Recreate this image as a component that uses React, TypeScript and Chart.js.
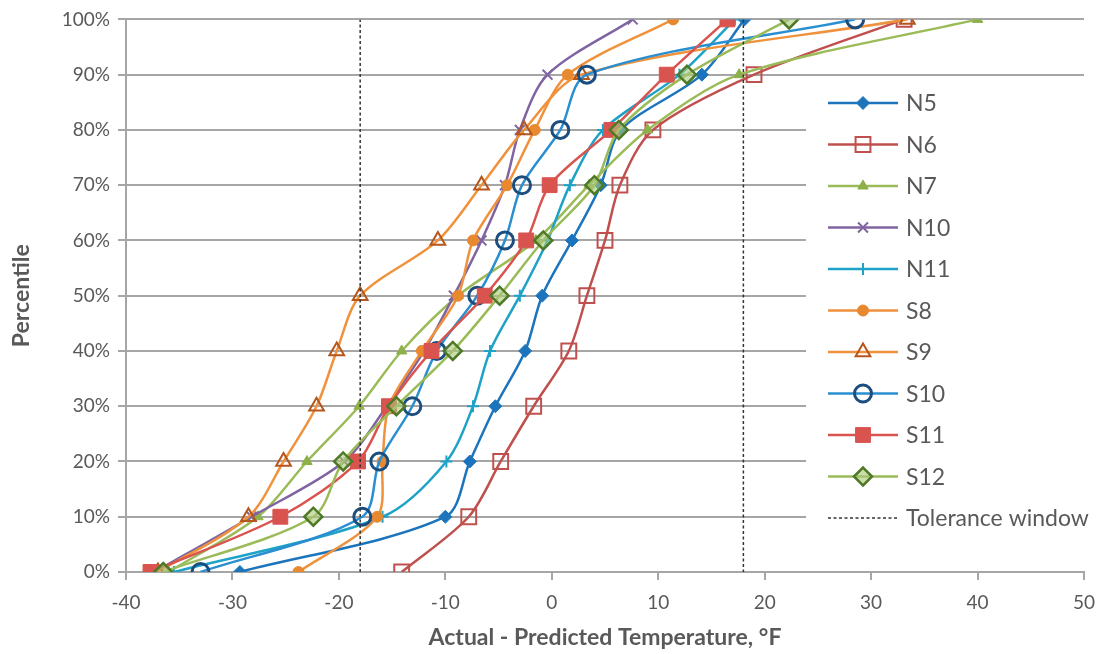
import React, { useEffect, useRef } from 'react';
import { Chart, registerables } from 'chart.js';
import { drawPoint } from 'chart.js/helpers';

Chart.register(...registerables);

const percentiles = [0, 10, 20, 30, 40, 50, 60, 70, 80, 90, 100];

const N5 = [-29.3, -10.0, -7.7, -5.3, -2.5, -0.9, 1.9, 4.6, 6.5, 14.1, 18.1];
const N6 = [-14.1, -7.8, -4.8, -1.7, 1.6, 3.3, 5.0, 6.4, 9.5, 19.0, 33.1];
const N7 = [-36.0, -27.6, -23.0, -18.1, -14.1, -8.8, -1.5, 3.5, 9.0, 17.6, 40.0];
const N10 = [-37.3, -28.2, -19.5, -15.5, -12.0, -9.2, -6.6, -4.4, -3.0, -0.4, 7.6];
const N11 = [-35.5, -15.9, -9.9, -7.4, -5.8, -3.0, -0.4, 1.7, 4.8, 12.0, 17.2];
const S8 = [-23.8, -16.4, -15.9, -15.3, -12.2, -8.8, -7.4, -4.2, -1.6, 1.5, 11.4];
const S9 = [-37.0, -28.5, -25.2, -22.1, -20.2, -18.0, -10.7, -6.6, -2.6, 2.8, 33.4];
const S10 = [-33.0, -17.8, -16.2, -13.1, -10.8, -7.0, -4.4, -2.8, 0.8, 3.3, 28.5];
const S11 = [-37.7, -25.5, -18.2, -15.3, -11.3, -6.3, -2.4, -0.2, 5.6, 10.8, 16.5];
const S12 = [-36.5, -22.4, -19.6, -14.6, -9.3, -4.9, -0.8, 4.0, 6.3, 12.7, 22.3];

const toleranceX = [-18, 18];
const toleranceLabel = 'Tolerance window';

const xTitle = 'Actual - Predicted Temperature, °F';
const yTitle = 'Percentile';

const FONT = 'Lato, "Open Sans", sans-serif';
const TEXT = '#595959';
const GRID = '#A6A6A6';

type Def = {
  label: string;
  values: number[];
  line: string;
  style: any;
  radius: number;
  border: string;
  fill: string;
  bw: number;
};

const defs: Def[] = [
  { label: 'N5', values: N5, line: '#1C75BC', style: 'rectRot', radius: 6.5, border: '#1C75BC', fill: '#1C75BC', bw: 1 },
  { label: 'N6', values: N6, line: '#C0504D', style: 'rect', radius: 10.5, border: '#C0504D', fill: 'rgba(255,255,255,0)', bw: 2 },
  { label: 'N7', values: N7, line: '#9BBB59', style: 'triangle', radius: 6, border: '#8EB04A', fill: '#8EB04A', bw: 1 },
  { label: 'N10', values: N10, line: '#8064A2', style: 'crossRot', radius: 7, border: '#8064A2', fill: '#8064A2', bw: 2 },
  { label: 'N11', values: N11, line: '#1FA2C8', style: 'cross', radius: 6, border: '#1FA2C8', fill: '#1FA2C8', bw: 2 },
  { label: 'S8', values: S8, line: '#F0913C', style: 'circle', radius: 5.5, border: '#E8892F', fill: '#E8892F', bw: 1 },
  { label: 'S9', values: S9, line: '#F0913C', style: 'triangle', radius: 8.5, border: '#B5561C', fill: 'rgba(255,255,255,0)', bw: 2 },
  { label: 'S10', values: S10, line: '#2A8FD0', style: 'circle', radius: 8.5, border: '#1B4E7E', fill: 'rgba(255,255,255,0)', bw: 3 },
  { label: 'S11', values: S11, line: '#D9534F', style: 'rect', radius: 10.5, border: '#D9534F', fill: '#D9534F', bw: 1 },
  { label: 'S12', values: S12, line: '#9BBB59', style: 'rectRot', radius: 9, border: '#4E7A27', fill: 'rgba(170,200,120,0.6)', bw: 2.5 },
];

const legendPlugin = {
  id: 'customLegend',
  beforeDatasetsDraw(chart: any) {
    const ctx = chart.ctx as CanvasRenderingContext2D;
    ctx.save();
    ctx.fillStyle = '#ffffff';
    ctx.fillRect(806, 82, 300, 460);
    const y0 = 103;
    const step = 41.5;
    ctx.font = `23px ${FONT}`;
    ctx.textBaseline = 'middle';
    ctx.textAlign = 'left';
    defs.forEach((d, i) => {
      const y = y0 + i * step;
      ctx.strokeStyle = d.line;
      ctx.lineWidth = 2.5;
      ctx.setLineDash([]);
      ctx.beginPath();
      ctx.moveTo(828, y);
      ctx.lineTo(898, y);
      ctx.stroke();
      ctx.fillStyle = d.fill;
      ctx.strokeStyle = d.border;
      ctx.lineWidth = d.bw;
      drawPoint(ctx, { pointStyle: d.style, radius: d.radius, rotation: 0, borderWidth: d.bw } as any, 863, y);
      ctx.fillStyle = TEXT;
      ctx.fillText(d.label, 906, y + 1);
    });
    const yt = y0 + defs.length * step;
    ctx.strokeStyle = '#333333';
    ctx.lineWidth = 1.5;
    ctx.setLineDash([3, 2.5]);
    ctx.beginPath();
    ctx.moveTo(828, yt);
    ctx.lineTo(898, yt);
    ctx.stroke();
    ctx.setLineDash([]);
    ctx.fillStyle = TEXT;
    ctx.fillText(toleranceLabel, 906, yt + 1);
    ctx.restore();
  },
};

export default function App() {
  const ref = useRef<HTMLCanvasElement | null>(null);

  useEffect(() => {
    if (!ref.current) return;
    const datasets: any[] = defs.map((d, i) => ({
      label: d.label,
      data: percentiles.map((p, j) => ({ x: d.values[j], y: p })),
      borderColor: d.line,
      backgroundColor: d.fill,
      borderWidth: 2.5,
      tension: 0.3,
      pointStyle: d.style,
      pointRadius: d.radius,
      pointBorderColor: d.border,
      pointBackgroundColor: d.fill,
      pointBorderWidth: d.bw,
      order: 20 - i,
    }));
    datasets.push({
      label: toleranceLabel,
      data: [
        { x: toleranceX[0], y: 0 },
        { x: toleranceX[0], y: 100 },
        { x: toleranceX[0], y: null },
        { x: toleranceX[1], y: 100 },
        { x: toleranceX[1], y: 0 },
      ],
      borderColor: '#333333',
      borderWidth: 1.5,
      borderDash: [3, 2.5],
      pointRadius: 0,
      spanGaps: false,
      tension: 0,
      order: 0,
    });

    const chart = new Chart(ref.current, {
      type: 'line',
      data: { datasets },
      plugins: [legendPlugin],
      options: {
        animation: false,
        responsive: true,
        maintainAspectRatio: false,
        layout: { padding: { left: 0, right: 18, top: 19, bottom: 0 } },
        plugins: {
          legend: { display: false },
          tooltip: { enabled: false },
        },
        scales: {
          x: {
            type: 'linear',
            min: -40,
            max: 50,
            ticks: {
              stepSize: 10,
              color: TEXT,
              font: { family: FONT, size: 19 },
              padding: 11,
            },
            grid: {
              drawOnChartArea: false,
              drawTicks: true,
              tickLength: 8,
              color: GRID,
              lineWidth: 2,
            },
            border: { display: true, color: GRID, width: 2 },
            title: {
              display: true,
              text: xTitle,
              color: TEXT,
              font: { family: FONT, size: 23, weight: 'bold' },
              padding: { top: 0, bottom: 3 },
            },
            afterFit: (scale: any) => {
              scale.height = 82;
              scale.paddingRight = 0;
              scale.paddingLeft = 0;
            },
          },
          y: {
            type: 'linear',
            min: 0,
            max: 100,
            ticks: {
              stepSize: 10,
              color: TEXT,
              font: { family: FONT, size: 19 },
              padding: 8,
              callback: (v: any) => `${v}%`,
            },
            grid: {
              drawTicks: true,
              tickLength: 8,
              color: GRID,
              lineWidth: 2,
            },
            border: { display: true, color: GRID, width: 2 },
            title: {
              display: true,
              text: yTitle,
              color: TEXT,
              font: { family: FONT, size: 23, weight: 'bold' },
              padding: { top: 8, bottom: 0 },
            },
            afterFit: (scale: any) => {
              scale.width = 126;
            },
          },
        },
      },
    });
    return () => chart.destroy();
  }, []);

  return (
    <div style={{ position: 'absolute', left: 0, top: 0, width: 1102, height: 654, background: '#fff' }}>
      <canvas ref={ref} />
    </div>
  );
}
